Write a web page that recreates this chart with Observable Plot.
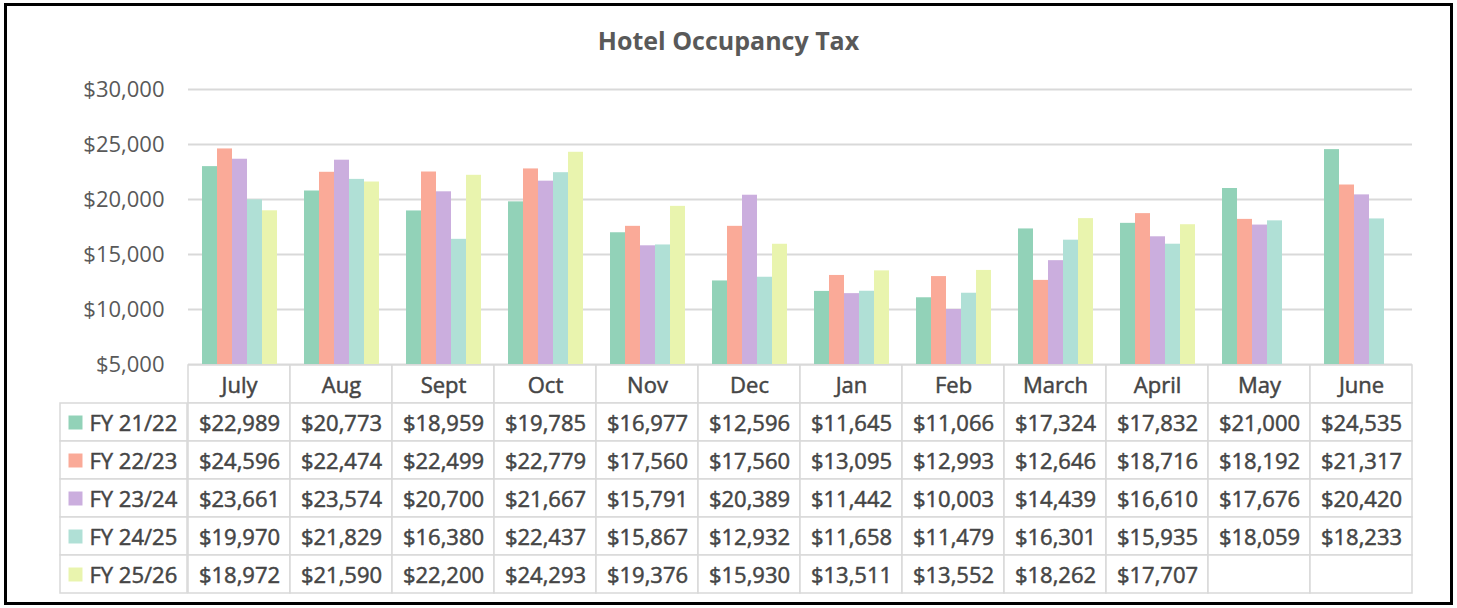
<!DOCTYPE html>
<html>
<head>
<meta charset="utf-8">
<script src="https://cdn.jsdelivr.net/npm/d3@7"></script>
<script src="https://cdn.jsdelivr.net/npm/@observablehq/plot@0.6"></script>
<style>
  html, body { margin: 0; padding: 0; background: #fff; }
  body { position: relative; width: 1457px; height: 608px; overflow: hidden; font-family: "Open Sans", sans-serif; }
  #frame { position: absolute; left: 4px; top: 3px; width: 1449px; height: 602px; box-sizing: border-box; border: 3px solid #000; }
  #title { position: absolute; left: 0; top: 25px; width: 1457px; text-align: center; font-size: 25px; line-height: 30px; font-weight: bold; color: #595959; }
  .abs { position: absolute; left: 0; }
  svg { overflow: visible; }
</style>
</head>
<body>
<div id="frame"></div>
<div id="title">Hotel Occupancy Tax</div>
<div id="bars" class="abs" style="top:0px"></div>
<div id="table" class="abs" style="top:363px"></div>
<div id="labels" class="abs" style="top:363px"></div>
<script>
const months = ["July","Aug","Sept","Oct","Nov","Dec","Jan","Feb","March","April","May","June"];
const series = ["FY 21/22","FY 22/23","FY 23/24","FY 24/25","FY 25/26"];
const fy2122 = [22989,20773,18959,19785,16977,12596,11645,11066,17324,17832,21000,24535];
const fy2223 = [24596,22474,22499,22779,17560,17560,13095,12993,12646,18716,18192,21317];
const fy2324 = [23661,23574,20700,21667,15791,20389,11442,10003,14439,16610,17676,20420];
const fy2425 = [19970,21829,16380,22437,15867,12932,11658,11479,16301,15935,18059,18233];
const fy2526 = [18972,21590,22200,24293,19376,15930,13511,13552,18262,17707,null,null];
const yTicks = [5000,10000,15000,20000,25000,30000];
const colors = ["#92D2B8","#FAAA98","#CBAEDE","#B0E0D6","#E9F4AE"];

const values = [fy2122, fy2223, fy2324, fy2425, fy2526];
const fmt = d3.format("$,");
const textColor = "#454545";

const barData = series.flatMap((s, i) => months.map((m, j) => ({series: s, month: m, value: values[i][j]})))
  .filter(d => d.value != null);

const barPlot = Plot.plot({
  width: 1457, height: 380,
  marginTop: 89, marginBottom: 16, marginLeft: 187, marginRight: 45,
  style: {fontFamily: "Open Sans", fontSize: "22px", color: "#595959", background: "transparent", overflow: "visible"},
  fx: {domain: months, padding: 0, axis: null},
  x: {domain: series, paddingInner: 0, paddingOuter: 0.77, axis: null},
  y: {domain: [5000, 30000]},
  color: {domain: series, range: colors},
  marks: [
    Plot.gridY(yTicks, {stroke: "#d9d9d9", strokeOpacity: 1, strokeWidth: 2}),
    Plot.barY(barData, {fx: "month", x: "series", y: "value", fill: "series", clip: true}),
    Plot.axisY(yTicks, {tickSize: 0, tickPadding: 24, tickFormat: fmt, fontSize: 22, fill: "#595959", stroke: "#595959", strokeWidth: 0.5, label: null})
  ]
});
document.getElementById("bars").appendChild(barPlot);

const tableRows = ["header", ...series];
const cells = [
  ...months.map(m => ({month: m, row: "header", label: m})),
  ...series.flatMap((s, i) => months.map((m, j) => ({month: m, row: s, label: values[i][j] == null ? "" : fmt(values[i][j])})))
];

const tablePlot = Plot.plot({
  width: 1457, height: 232,
  marginTop: 1, marginBottom: 1, marginLeft: 187, marginRight: 45,
  style: {fontFamily: "Open Sans", fontSize: "22px", color: textColor, background: "transparent", overflow: "visible"},
  x: {domain: months, padding: 0, axis: null},
  y: {domain: tableRows, padding: 0, axis: null},
  marks: [
    Plot.cell(cells, {x: "month", y: "row", fill: "white", stroke: "#d9d9d9", strokeWidth: 1.5, inset: 0}),
    Plot.text(cells, {x: "month", y: "row", text: "label", fill: textColor, stroke: textColor, strokeWidth: 0.5, fontSize: 22, dy: 1})
  ]
});
document.getElementById("table").appendChild(tablePlot);

const labelCells = series.map(s => ({col: "label", row: s, series: s}));
const labelPlot = Plot.plot({
  width: 187, height: 232,
  marginTop: 1, marginBottom: 1, marginLeft: 60, marginRight: 0,
  style: {fontFamily: "Open Sans", fontSize: "22px", color: textColor, background: "transparent", overflow: "visible"},
  x: {domain: ["label"], padding: 0, axis: null},
  y: {domain: tableRows, padding: 0, axis: null},
  color: {domain: series, range: colors},
  marks: [
    Plot.cell(labelCells, {x: "col", y: "row", fill: "white", stroke: "#d9d9d9", strokeWidth: 1.5, inset: 0}),
    Plot.dot(labelCells, {x: "col", y: "row", symbol: "square", r: 7.9, fill: "series", dx: -48.5}),
    Plot.text(labelCells, {x: "col", y: "row", text: "series", textAnchor: "start", dx: -34.5, dy: 1, fill: textColor, stroke: textColor, strokeWidth: 0.5, fontSize: 22})
  ]
});
document.getElementById("labels").appendChild(labelPlot);
</script>
</body>
</html>
